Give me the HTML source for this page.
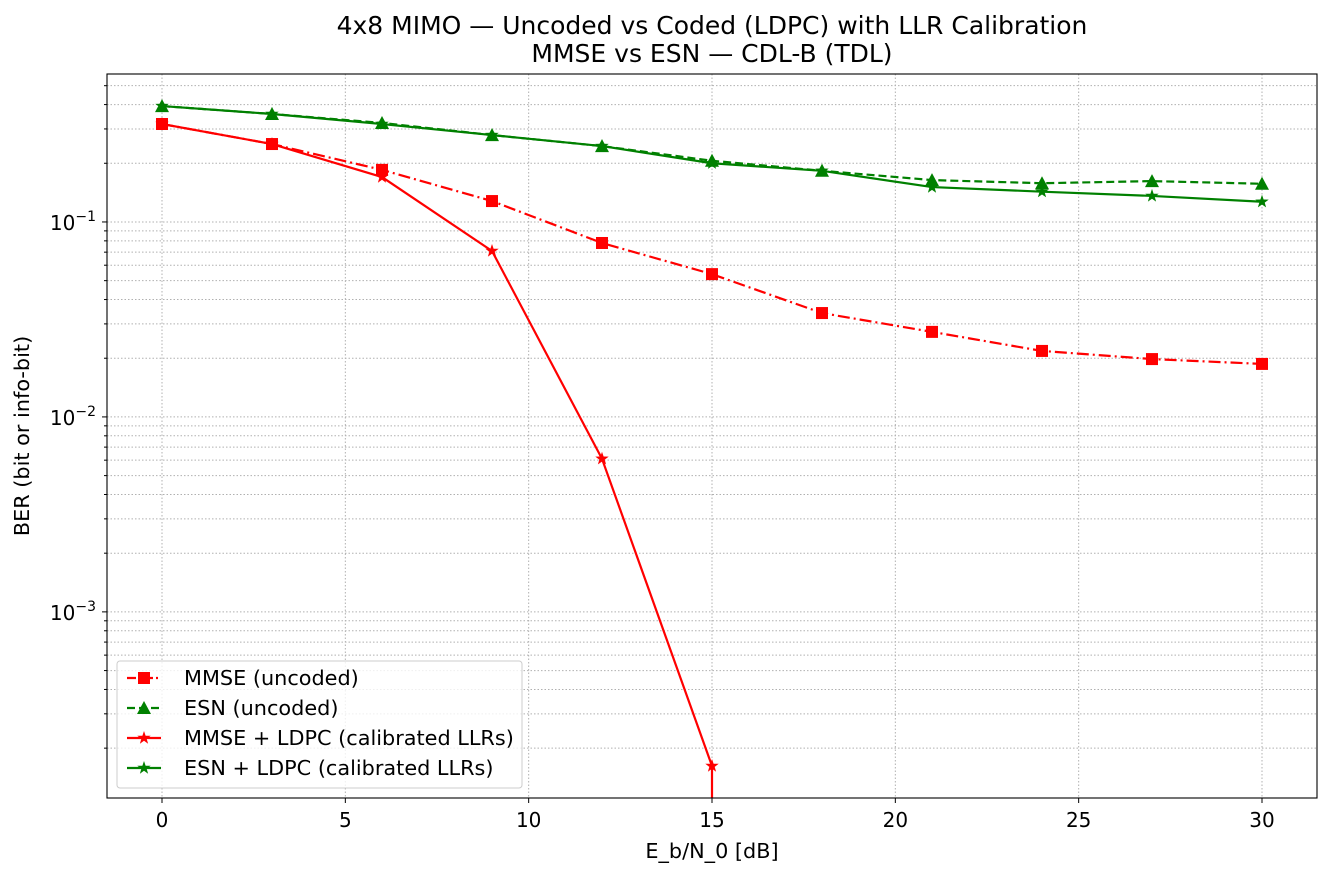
<!DOCTYPE html>
<html><head><meta charset="utf-8">
<style>
body{margin:0;background:#fff;}
svg{display:block;font-family:"DejaVu Sans","Liberation Sans",sans-serif;}
</style></head>
<body>
<svg id="chart" width="1333" height="878" xmlns="http://www.w3.org/2000/svg">
<rect width="1333" height="878" fill="#fff"/>
<text x="712" y="34" text-anchor="middle" font-size="25">4x8 MIMO — Uncoded vs Coded (LDPC) with LLR Calibration</text>
<text x="712" y="62" text-anchor="middle" font-size="25">MMSE vs ESN — CDL-B (TDL)</text>
<g id="grid"></g>
<g id="series"></g>
<rect x="107" y="74" width="1210" height="724" fill="none" stroke="#000" stroke-width="1.1"/>
<g id="ticks"></g>
<text x="712" y="858" text-anchor="middle" font-size="20.8">E_b/N_0 [dB]</text>
<text transform="translate(29,436) rotate(-90)" text-anchor="middle" font-size="20.8">BER (bit or info-bit)</text>
<g id="legend"></g>
</svg>
<script>
const xs = [0,3,6,9,12,15,18,21,24,27,30];
const mmseUncoded = [0.318,0.251,0.185,0.128,0.078,0.054,0.0341,0.0273,0.0218,0.0198,0.0187];
const esnUncoded = [0.393,0.358,0.322,0.279,0.245,0.206,0.183,0.164,0.158,0.162,0.157];
const mmseLdpc = [0.318,0.251,0.170,0.071,0.0061,0.000162,0,0,0,0,0];
const esnLdpc = [0.393,0.358,0.318,0.279,0.245,0.200,0.183,0.151,0.143,0.136,0.127];
const xTicks = [0,5,10,15,20,25,30];
const yDecades = [-3,-2,-1];
const legendLabels = ["MMSE (uncoded)","ESN (uncoded)","MMSE + LDPC (calibrated LLRs)","ESN + LDPC (calibrated LLRs)"];

const NS="http://www.w3.org/2000/svg";
const L=107,R=1317,T=74,B=798;
const xMin=-1.5,xMax=31.5;
const logTop=Math.log10(0.574), logBot=Math.log10(1.11e-4);
const sx=v=>L+(v-xMin)/(xMax-xMin)*(R-L);
const sy=v=>{ if(v<=0) return B+50; return T+(logTop-Math.log10(v))/(logTop-logBot)*(B-T); };
function mk(tag,attrs,parent){const e=document.createElementNS(NS,tag);for(const k in attrs)e.setAttribute(k,attrs[k]);parent.appendChild(e);return e;}
const grid=document.getElementById('grid'),ticks=document.getElementById('ticks'),series=document.getElementById('series'),legend=document.getElementById('legend');

xTicks.forEach(t=>{
  const x=sx(t);
  const g=mk('line',{x1:x,x2:x,y1:T,y2:B,stroke:'#b0b0b0','stroke-width':1,'stroke-dasharray':'1.5,2'},grid);
  
  
  const tk=mk('line',{x1:x,x2:x,y1:B,y2:B+5,stroke:'#000'},ticks);
  
  
  const tl=mk('text',{x:x,y:B+29,'text-anchor':'middle','font-size':20},ticks);
  tl.textContent=t;
  
  
});
for(let d=-4;d<=-1;d++){
  for(let m=1;m<=9;m++){
    const v=m*Math.pow(10,d);
    const y=sy(v);
    if(y<T||y>B) continue;
    const g=mk('line',{x1:L,x2:R,y1:y,y2:y,stroke:'#b0b0b0','stroke-width':1,'stroke-dasharray':'1.5,2'},grid);
    
    
    const tk=mk('line',{x1:L-(m===1?5:3),x2:L,y1:y,y2:y,stroke:'#000'},ticks);
    
    
  }
}
yDecades.forEach(d=>{
  const y=sy(Math.pow(10,d));
  const tl=mk('text',{x:L-11,y:y+8,'text-anchor':'end','font-size':20},ticks);
  tl.innerHTML='10<tspan dy="-9" font-size="14">−'+(-d)+'</tspan>';
  
  
});

function marker(type,x,y,color,parent){
  let e;
  if(type==='s') e=mk('rect',{x:x-6,y:y-6,width:12,height:12,fill:color},parent);
  else if(type==='^') e=mk('polygon',{points:`${x},${y-7} ${x+7},${y+6} ${x-7},${y+6}`,fill:color},parent);
  else { let p=[];for(let i=0;i<10;i++){const r=i%2?2.8:7;const a=-Math.PI/2+i*Math.PI/5;p.push((x+r*Math.cos(a)).toFixed(1)+','+(y+r*Math.sin(a)).toFixed(1));}
    e=mk('polygon',{points:p.join(' '),fill:color},parent);}
  return e;
}
const defs=[
 {vals:mmseUncoded,color:'#ff0000',dash:'12,4,2,4',m:'s',name:'mmse-uncoded'},
 {vals:esnUncoded,color:'#008000',dash:'8,4',m:'^',name:'esn-uncoded'},
 {vals:mmseLdpc,color:'#ff0000',dash:'',m:'*',name:'mmse-ldpc'},
 {vals:esnLdpc,color:'#008000',dash:'',m:'*',name:'esn-ldpc'}
];
const cp=mk('clipPath',{id:'clip'},document.getElementById('chart'));
mk('rect',{x:L,y:T,width:R-L,height:B-T},cp);
defs.forEach(s=>{
  const g=mk('g',{'clip-path':'url(#clip)'},series);
  
  
  let pts=[];
  for(let i=0;i<xs.length;i++){
    if(s.vals[i]>0) pts.push([sx(xs[i]),sy(s.vals[i])]);
    else { pts.push([sx(xs[i-1]),B+50]); break; }
  }
  const pl=mk('polyline',{points:pts.map(p=>p.join(',')).join(' '),fill:'none',stroke:s.color,'stroke-width':2.2},g);
  if(s.dash) pl.setAttribute('stroke-dasharray',s.dash);
  
  
  xs.forEach((x,i)=>{ if(s.vals[i]>0){
    const mm=marker(s.m,sx(x),sy(s.vals[i]),s.color,g);
    
    
  }});
});
const lb=mk('rect',{x:117,y:661,width:405,height:127,rx:3,fill:'#fff','fill-opacity':0.8,stroke:'#ccc'},legend);


defs.forEach((s,i)=>{
  const y=678+i*30;
  const g=mk('g',{},legend);
  
  
  const l=mk('line',{x1:127,x2:161,y1:y,y2:y,stroke:s.color,'stroke-width':2.2},g);
  if(s.dash) l.setAttribute('stroke-dasharray',s.dash==='8,4'?'8,4':'9,3,2,3');
  marker(s.m,144,y,s.color,g);
  const t=mk('text',{x:184,y:y+7,'font-size':20.8},g);
  t.textContent=legendLabels[i];
});
</script>
</body></html>
